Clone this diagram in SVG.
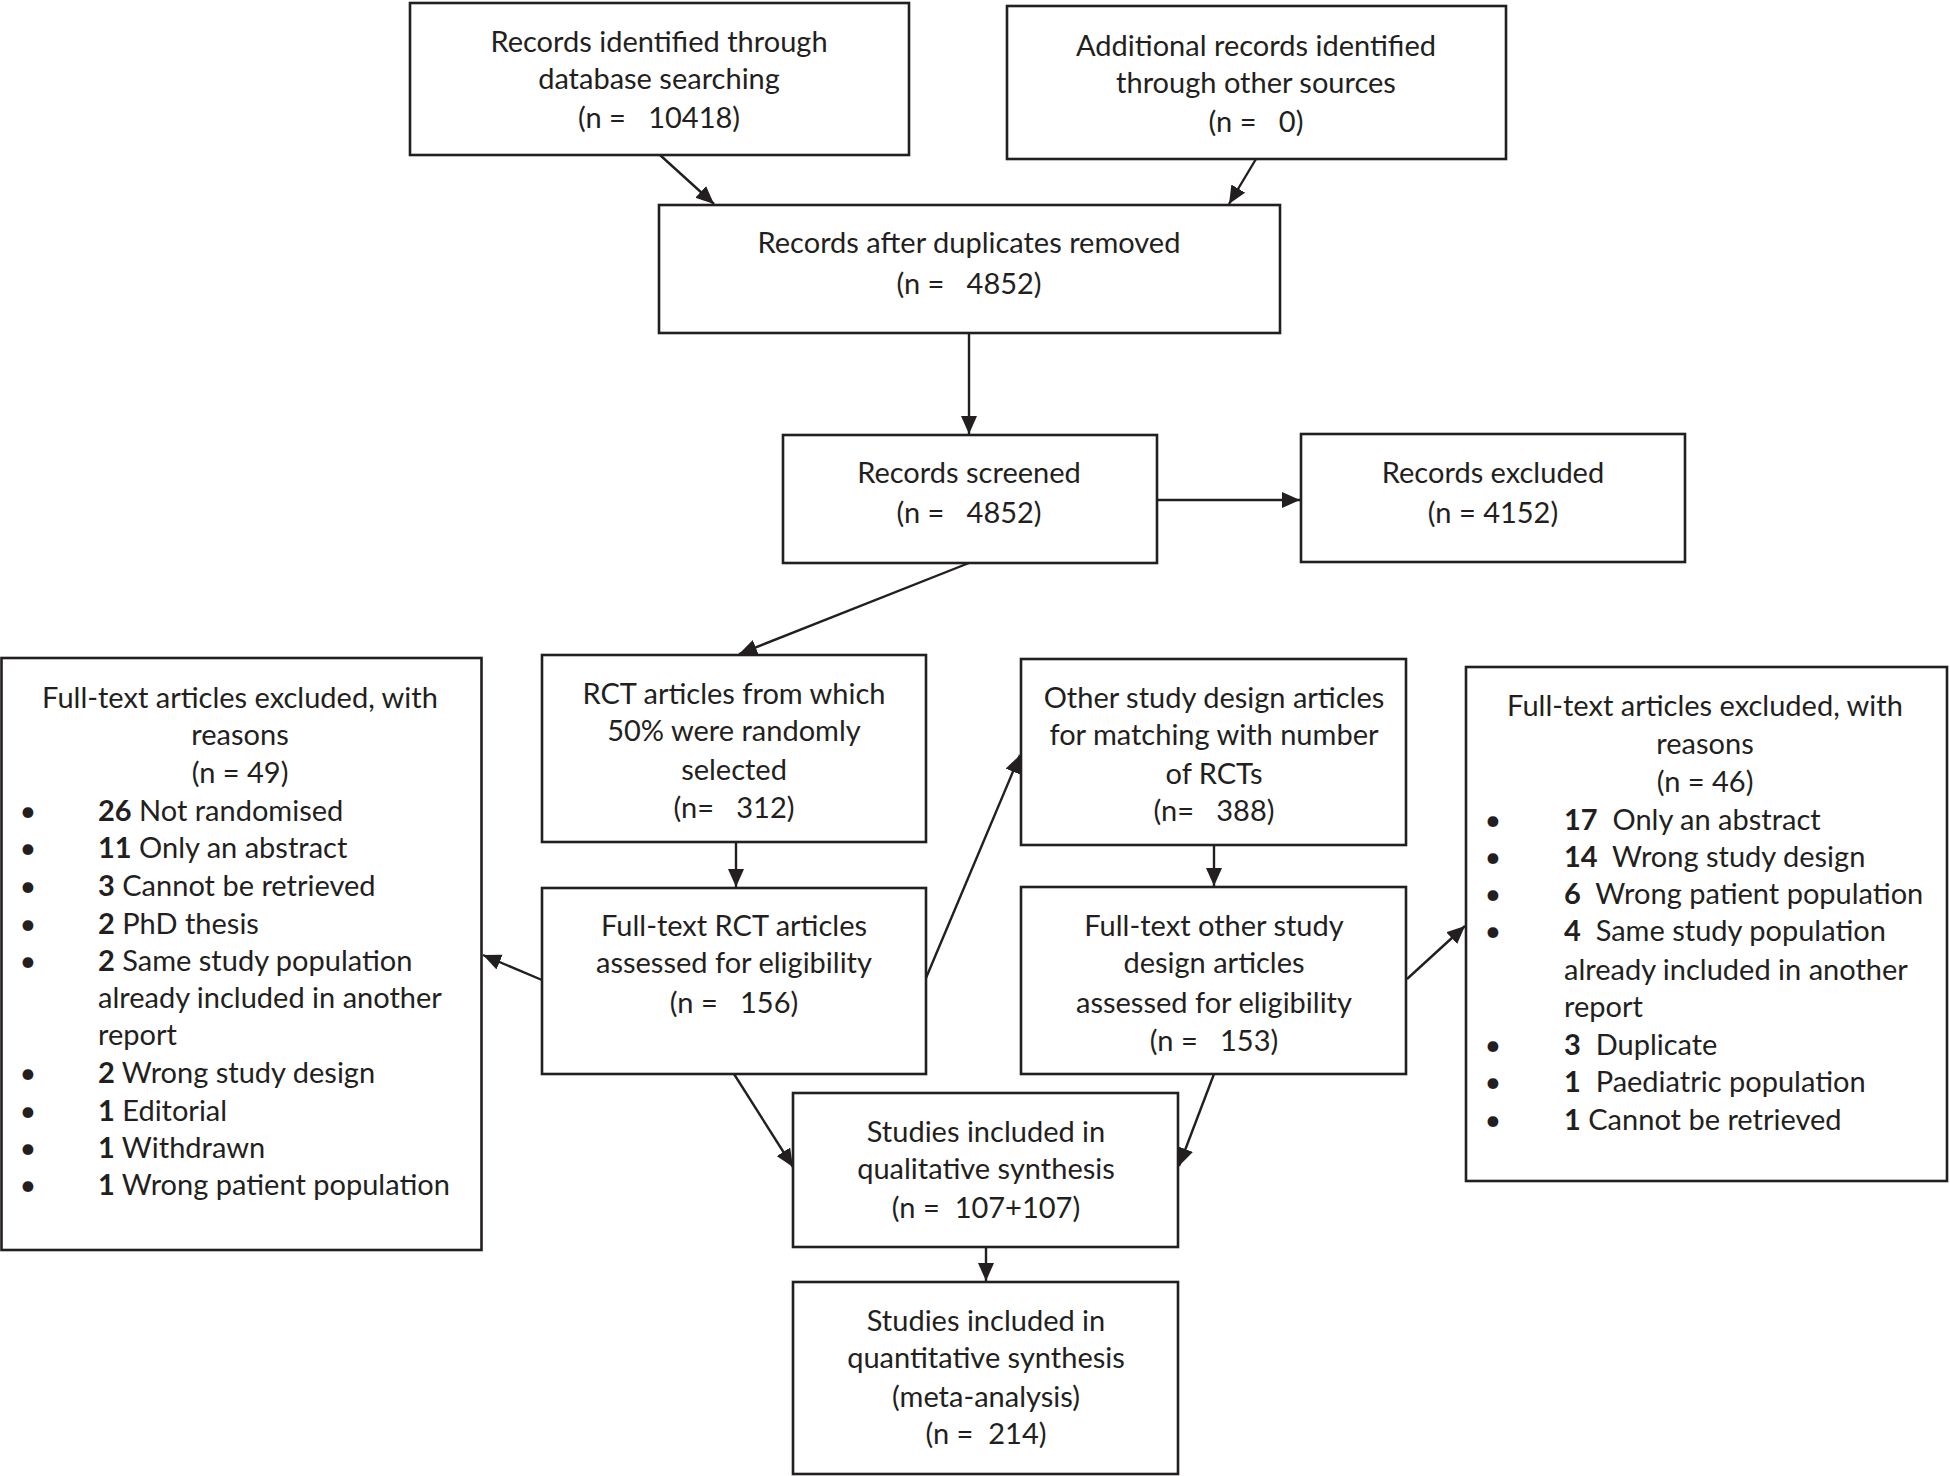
<svg xmlns="http://www.w3.org/2000/svg" width="1950" height="1476" viewBox="0 0 1950 1476">
<style>
.box{fill:#fff;stroke:#231f20;stroke-width:2.6}
.t{font-family:Lato,"Open Sans","Liberation Sans",sans-serif;font-size:29px;fill:#231f20;text-anchor:middle}
.l{text-anchor:start}
.b{font-weight:bold}
.c{fill:none;stroke:#231f20;stroke-width:2.4;marker-end:url(#ah)}
</style>
<defs>
<marker id="ah" markerUnits="userSpaceOnUse" markerWidth="20" markerHeight="18" refX="18" refY="8" orient="auto">
<path d="M0,0 L18,8 L0,16 z" fill="#231f20"/>
</marker>
</defs>
<rect width="1950" height="1476" fill="#fff"/>

<g id="connectors">
<line class="c" x1="660" y1="155" x2="714" y2="204"/>
<line class="c" x1="1256" y1="159" x2="1229" y2="204"/>
<line class="c" x1="969" y1="333" x2="969" y2="434"/>
<line class="c" x1="1157" y1="500" x2="1300" y2="500"/>
<line class="c" x1="969" y1="563" x2="739" y2="654"/>
<line class="c" x1="736" y1="842" x2="736" y2="887"/>
<line class="c" x1="542" y1="980" x2="483" y2="955"/>
<line class="c" x1="926" y1="978" x2="1020" y2="755"/>
<line class="c" x1="734" y1="1074" x2="793" y2="1167"/>
<line class="c" x1="1214" y1="845" x2="1214" y2="886"/>
<line class="c" x1="1407" y1="979" x2="1465" y2="926"/>
<line class="c" x1="1214" y1="1074" x2="1179" y2="1166"/>
<line class="c" x1="986" y1="1247" x2="986" y2="1281"/>
</g>

<g id="n1">
<rect class="box" x="410" y="3" width="499" height="152"/>
<text class="t" x="659" y="52">Records identified through</text>
<text class="t" x="659" y="89">database searching</text>
<text class="t" x="659" y="128" xml:space="preserve">(n =   10418)</text>
</g>

<g id="n2">
<rect class="box" x="1007" y="6" width="499" height="153"/>
<text class="t" x="1256" y="56">Additional records identified</text>
<text class="t" x="1256" y="93">through other sources</text>
<text class="t" x="1256" y="132" xml:space="preserve">(n =   0)</text>
</g>

<g id="n3">
<rect class="box" x="659" y="205" width="621" height="128"/>
<text class="t" x="969" y="253">Records after duplicates removed</text>
<text class="t" x="969" y="294" xml:space="preserve">(n =   4852)</text>
</g>

<g id="n4">
<rect class="box" x="783" y="435" width="374" height="128"/>
<text class="t" x="969" y="483">Records screened</text>
<text class="t" x="969" y="523" xml:space="preserve">(n =   4852)</text>
</g>

<g id="n5">
<rect class="box" x="1301" y="434" width="384" height="128"/>
<text class="t" x="1493" y="483">Records excluded</text>
<text class="t" x="1493" y="523">(n = 4152)</text>
</g>

<g id="n6">
<rect class="box" x="542" y="655" width="384" height="187"/>
<text class="t" x="734" y="704">RCT articles from which</text>
<text class="t" x="734" y="741">50% were randomly</text>
<text class="t" x="734" y="780">selected</text>
<text class="t" x="734" y="818" xml:space="preserve">(n=   312)</text>
</g>

<g id="n7">
<rect class="box" x="542" y="888" width="384" height="186"/>
<text class="t" x="734" y="936">Full-text RCT articles</text>
<text class="t" x="734" y="973">assessed for eligibility</text>
<text class="t" x="734" y="1013" xml:space="preserve">(n =   156)</text>
</g>

<g id="n8">
<rect class="box" x="1021" y="659" width="385" height="186"/>
<text class="t" x="1214" y="708">Other study design articles</text>
<text class="t" x="1214" y="745">for matching with number</text>
<text class="t" x="1214" y="784">of RCTs</text>
<text class="t" x="1214" y="821" xml:space="preserve">(n=   388)</text>
</g>

<g id="n9">
<rect class="box" x="1021" y="887" width="385" height="187"/>
<text class="t" x="1214" y="936">Full-text other study</text>
<text class="t" x="1214" y="973">design articles</text>
<text class="t" x="1214" y="1013">assessed for eligibility</text>
<text class="t" x="1214" y="1051" xml:space="preserve">(n =   153)</text>
</g>

<g id="n10">
<rect class="box" x="793" y="1093" width="385" height="154"/>
<text class="t" x="986" y="1142">Studies included in</text>
<text class="t" x="986" y="1179">qualitative synthesis</text>
<text class="t" x="986" y="1218" xml:space="preserve">(n =  107+107)</text>
</g>

<g id="n11">
<rect class="box" x="793" y="1282" width="385" height="192"/>
<text class="t" x="986" y="1331">Studies included in</text>
<text class="t" x="986" y="1368">quantitative synthesis</text>
<text class="t" x="986" y="1407">(meta-analysis)</text>
<text class="t" x="986" y="1444" xml:space="preserve">(n =  214)</text>
</g>

<g id="n12">
<rect class="box" x="1.5" y="658" width="480" height="592"/>
<text class="t" x="240" y="708">Full-text articles excluded, with</text>
<text class="t" x="240" y="745">reasons</text>
<text class="t" x="240" y="783">(n = 49)</text>
<text class="t" x="28" y="821">•</text><text class="t l" x="98" y="821"><tspan class="b">26</tspan> Not randomised</text>
<text class="t" x="28" y="858">•</text><text class="t l" x="98" y="858"><tspan class="b">11</tspan> Only an abstract</text>
<text class="t" x="28" y="896">•</text><text class="t l" x="98" y="896"><tspan class="b">3</tspan> Cannot be retrieved</text>
<text class="t" x="28" y="934">•</text><text class="t l" x="98" y="934"><tspan class="b">2</tspan> PhD thesis</text>
<text class="t" x="28" y="971">•</text><text class="t l" x="98" y="971"><tspan class="b">2</tspan> Same study population</text>
<text class="t l" x="98" y="1008">already included in another</text>
<text class="t l" x="98" y="1045">report</text>
<text class="t" x="28" y="1083">•</text><text class="t l" x="98" y="1083"><tspan class="b">2</tspan> Wrong study design</text>
<text class="t" x="28" y="1121">•</text><text class="t l" x="98" y="1121"><tspan class="b">1</tspan> Editorial</text>
<text class="t" x="28" y="1158">•</text><text class="t l" x="98" y="1158"><tspan class="b">1</tspan> Withdrawn</text>
<text class="t" x="28" y="1195">•</text><text class="t l" x="98" y="1195"><tspan class="b">1</tspan> Wrong patient population</text>
</g>

<g id="n13">
<rect class="box" x="1466" y="667" width="481" height="514"/>
<text class="t" x="1705" y="716">Full-text articles excluded, with</text>
<text class="t" x="1705" y="754">reasons</text>
<text class="t" x="1705" y="792">(n = 46)</text>
<text class="t" x="1493" y="830">•</text><text class="t l" x="1564" y="830" xml:space="preserve"><tspan class="b">17</tspan>  Only an abstract</text>
<text class="t" x="1493" y="867">•</text><text class="t l" x="1564" y="867" xml:space="preserve"><tspan class="b">14</tspan>  Wrong study design</text>
<text class="t" x="1493" y="904">•</text><text class="t l" x="1564" y="904" xml:space="preserve"><tspan class="b">6</tspan>  Wrong patient population</text>
<text class="t" x="1493" y="941">•</text><text class="t l" x="1564" y="941" xml:space="preserve"><tspan class="b">4</tspan>  Same study population</text>
<text class="t l" x="1564" y="980">already included in another</text>
<text class="t l" x="1564" y="1017">report</text>
<text class="t" x="1493" y="1055">•</text><text class="t l" x="1564" y="1055" xml:space="preserve"><tspan class="b">3</tspan>  Duplicate</text>
<text class="t" x="1493" y="1092">•</text><text class="t l" x="1564" y="1092" xml:space="preserve"><tspan class="b">1</tspan>  Paediatric population</text>
<text class="t" x="1493" y="1130">•</text><text class="t l" x="1564" y="1130"><tspan class="b">1</tspan> Cannot be retrieved</text>
</g>
</svg>
